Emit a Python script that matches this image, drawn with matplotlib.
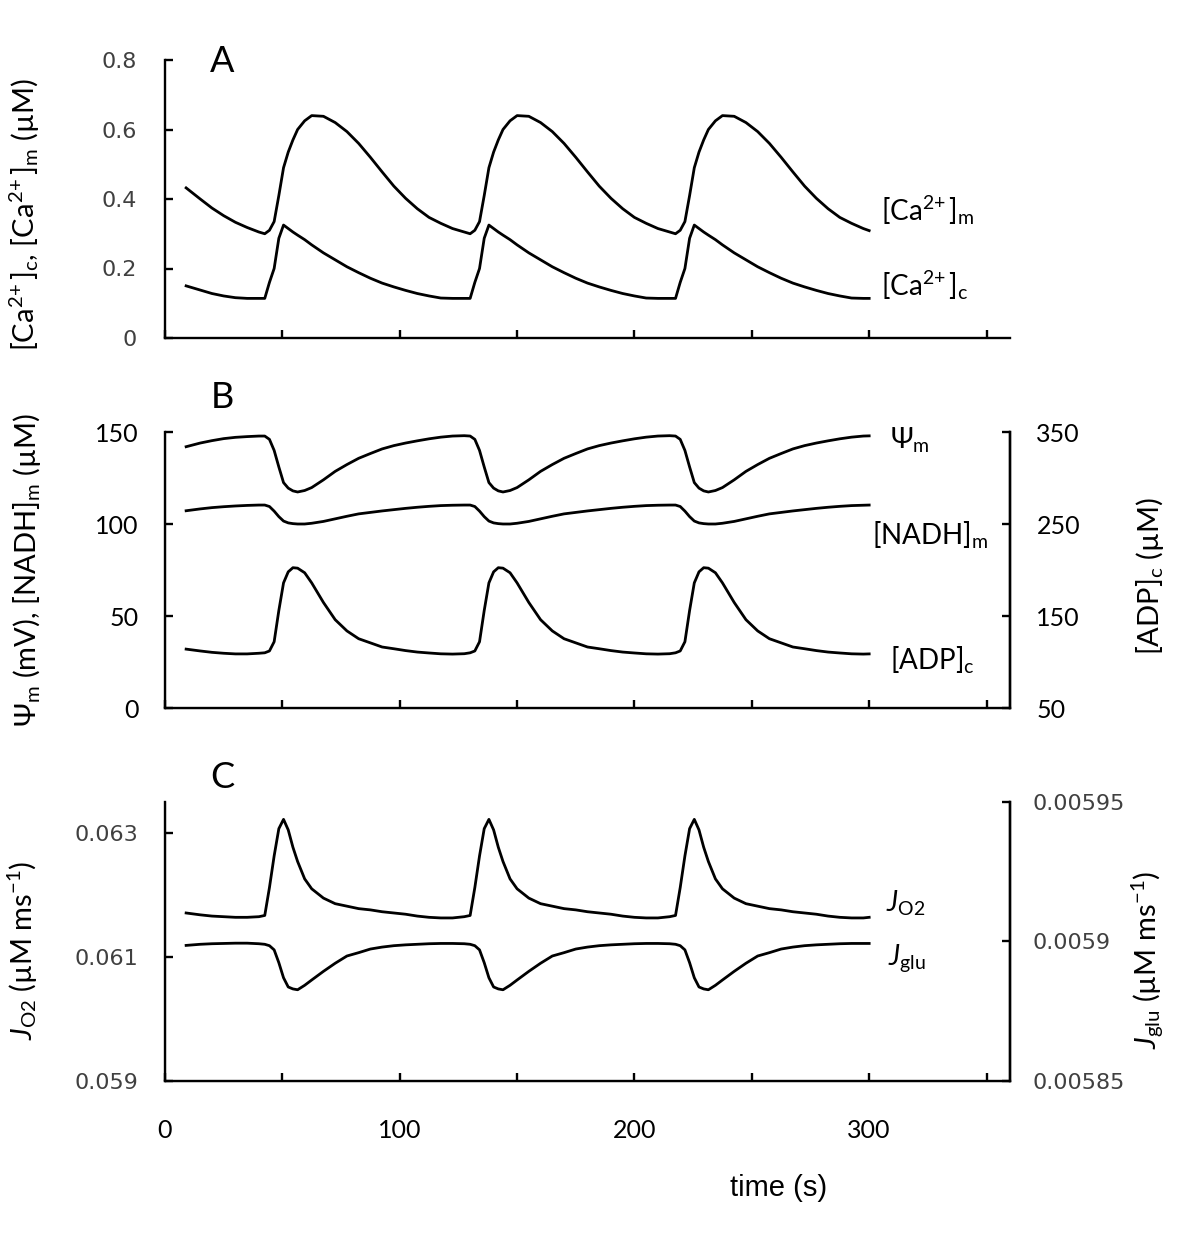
import matplotlib.pyplot as plt

# mathtext in the Calibri-like font used by the figure labels
plt.rcParams['mathtext.fontset'] = 'custom'
plt.rcParams['mathtext.rm'] = 'Lato'
plt.rcParams['mathtext.it'] = 'Lato:italic'
plt.rcParams['mathtext.bf'] = 'Lato:bold'

LABEL_FONT = ['Lato', 'DejaVu Sans']
TICK_GRAY = '#404040'

# time points (s), shared by every trace
time_s = [9, 15, 20, 25, 30, 35, 40,
          42.5, 44.5, 46.5, 48.5, 50.5, 52.5, 54.5, 56.5, 59.5, 62.5, 67.5, 72.5,
          77.5, 82.5, 87.5, 92.5, 97.5, 102.5, 107.5, 112.5, 117.5, 122.5, 127.5,
          130, 132, 134, 136, 138, 140, 142, 144, 147, 150, 155, 160,
          165, 170, 175, 180, 185, 190, 195, 200, 205, 210, 215,
          217.5, 219.5, 221.5, 223.5, 225.5, 227.5, 229.5, 231.5, 234.5, 237.5, 242.5, 247.5,
          252.5, 257.5, 262.5, 267.5, 272.5, 277.5, 282.5, 287.5, 292.5, 297.5, 300]

# panel A (uM)
ca_m = [0.432, 0.40, 0.374, 0.352, 0.333, 0.318, 0.305,
        0.300, 0.31, 0.335, 0.41, 0.49, 0.535, 0.57, 0.60, 0.625, 0.640, 0.638, 0.620,
        0.594, 0.56, 0.52, 0.478, 0.437, 0.402, 0.372, 0.347, 0.33, 0.315, 0.305,
        0.300, 0.31, 0.335, 0.41, 0.49, 0.535, 0.57, 0.60, 0.625, 0.640, 0.638, 0.620,
        0.594, 0.56, 0.52, 0.478, 0.437, 0.402, 0.372, 0.347, 0.33, 0.315, 0.305,
        0.300, 0.31, 0.335, 0.41, 0.49, 0.535, 0.57, 0.60, 0.625, 0.640, 0.638, 0.620,
        0.594, 0.56, 0.52, 0.478, 0.437, 0.402, 0.372, 0.347, 0.33, 0.315, 0.309]
ca_c = [0.150, 0.138, 0.128, 0.121, 0.116, 0.114, 0.114,
        0.114, 0.16, 0.20, 0.287, 0.325, 0.315, 0.305, 0.296, 0.283, 0.268, 0.245, 0.225,
        0.205, 0.188, 0.172, 0.158, 0.147, 0.137, 0.128, 0.121, 0.115, 0.114, 0.114,
        0.114, 0.16, 0.20, 0.287, 0.325, 0.315, 0.305, 0.296, 0.283, 0.268, 0.245, 0.225,
        0.205, 0.188, 0.172, 0.158, 0.147, 0.137, 0.128, 0.121, 0.115, 0.114, 0.114,
        0.114, 0.16, 0.20, 0.287, 0.325, 0.315, 0.305, 0.296, 0.283, 0.268, 0.245, 0.225,
        0.205, 0.188, 0.172, 0.158, 0.147, 0.137, 0.128, 0.121, 0.115, 0.114, 0.114]

# panel B: psi (mV), NADH (uM) on left axis, ADP (uM) on right axis
psi_m = [142, 144, 145.3, 146.4, 147.1, 147.5, 147.8,
         147.8, 146, 140, 131, 122.5, 119.5, 118, 117.4, 118.2, 119.8, 124, 128.6,
         132.3, 135.7, 138.3, 140.8, 142.6, 144, 145.2, 146.3, 147.2, 147.8, 148,
         147.8, 146, 140, 131, 122.5, 119.5, 118, 117.4, 118.2, 119.8, 124, 128.6,
         132.3, 135.7, 138.3, 140.8, 142.6, 144, 145.2, 146.3, 147.2, 147.8, 148,
         147.8, 146, 140, 131, 122.5, 119.5, 118, 117.4, 118.2, 119.8, 124, 128.6,
         132.3, 135.7, 138.3, 140.8, 142.6, 144, 145.2, 146.3, 147.2, 147.8, 147.9]
nadh_m = [107.2, 108.2, 108.9, 109.4, 109.8, 110.1, 110.3,
          110.3, 109.5, 107, 104, 101.6, 100.6, 100.2, 100, 100, 100.4, 101.4, 102.8,
          104.2, 105.5, 106.3, 107.1, 107.8, 108.5, 109.1, 109.6, 110, 110.2, 110.3,
          110.3, 109.5, 107, 104, 101.6, 100.6, 100.2, 100, 100, 100.4, 101.4, 102.8,
          104.2, 105.5, 106.3, 107.1, 107.8, 108.5, 109.1, 109.6, 110, 110.2, 110.3,
          110.3, 109.5, 107, 104, 101.6, 100.6, 100.2, 100, 100, 100.4, 101.4, 102.8,
          104.2, 105.5, 106.3, 107.1, 107.8, 108.5, 109.1, 109.6, 110, 110.2, 110.3]
adp_c = [114, 112, 110.5, 109.5, 108.8, 108.8, 109.5,
         110, 112, 122, 156, 186, 198, 202.5, 202, 197, 186, 164.7, 146,
         133.8, 125.3, 120.8, 116.3, 114.4, 112.4, 110.8, 109.8, 108.9, 108.6, 109,
         110, 112, 122, 156, 186, 198, 202.5, 202, 197, 186, 164.7, 146,
         133.8, 125.3, 120.8, 116.3, 114.4, 112.4, 110.8, 109.8, 108.9, 108.6, 109,
         110, 112, 122, 156, 186, 198, 202.5, 202, 197, 186, 164.7, 146,
         133.8, 125.3, 120.8, 116.3, 114.4, 112.4, 110.8, 109.8, 108.9, 108.6, 108.8]

# panel C (uM/ms): J_O2 on left axis, J_glu on right axis
j_o2 = [0.06171, 0.06168, 0.06166, 0.06165, 0.06164, 0.06164, 0.06165,
        0.06167, 0.06212, 0.06263, 0.06307, 0.06322, 0.06305, 0.06277, 0.06254, 0.06226,
        0.06210, 0.06195, 0.06186, 0.06182, 0.06178, 0.06176, 0.06173, 0.06171, 0.06169,
        0.06166, 0.06164, 0.06163, 0.06163, 0.06165,
        0.06167, 0.06212, 0.06263, 0.06307, 0.06322, 0.06305, 0.06277, 0.06254, 0.06226,
        0.06210, 0.06195, 0.06186, 0.06182, 0.06178, 0.06176, 0.06173, 0.06171, 0.06169,
        0.06166, 0.06164, 0.06163, 0.06163, 0.06165,
        0.06167, 0.06212, 0.06263, 0.06307, 0.06322, 0.06305, 0.06277, 0.06254, 0.06226,
        0.06210, 0.06195, 0.06186, 0.06182, 0.06178, 0.06176, 0.06173, 0.06171, 0.06169,
        0.06166, 0.06164, 0.06163, 0.06163, 0.06164]
j_glu = [0.0058986, 0.005899, 0.0058992, 0.0058993, 0.0058994, 0.0058994, 0.0058992,
         0.005899, 0.0058985, 0.005897, 0.0058924, 0.005887, 0.0058837, 0.005883, 0.0058827,
         0.0058843, 0.0058862, 0.0058893, 0.0058922, 0.0058948, 0.005896, 0.0058973,
         0.005898, 0.0058985, 0.0058988, 0.005899, 0.0058992, 0.0058993, 0.0058993, 0.0058992,
         0.005899, 0.0058985, 0.005897, 0.0058924, 0.005887, 0.0058837, 0.005883, 0.0058827,
         0.0058843, 0.0058862, 0.0058893, 0.0058922, 0.0058948, 0.005896, 0.0058973,
         0.005898, 0.0058985, 0.0058988, 0.005899, 0.0058992, 0.0058993, 0.0058993, 0.0058992,
         0.005899, 0.0058985, 0.005897, 0.0058924, 0.005887, 0.0058837, 0.005883, 0.0058827,
         0.0058843, 0.0058862, 0.0058893, 0.0058922, 0.0058948, 0.005896, 0.0058973,
         0.005898, 0.0058985, 0.0058988, 0.005899, 0.0058992, 0.0058993, 0.0058993, 0.0058993]

x_ticks = [0, 50, 100, 150, 200, 250, 300, 350]
x_tick_labels = ['0', '', '100', '', '200', '', '300', '']
ca_ticks = [0, 0.2, 0.4, 0.6, 0.8]
ca_tick_labels = ['0', '0.2', '0.4', '0.6', '0.8']
b_left_ticks = [0, 50, 100, 150]
b_right_ticks = [50, 150, 250, 350]
o2_ticks = [0.059, 0.061, 0.063]
o2_tick_labels = ['0.059', '0.061', '0.063']
glu_ticks = [0.00585, 0.0059, 0.00595]
glu_tick_labels = ['0.00585', '0.0059', '0.00595']

W, H = 1200, 1247
LW = 2.0
CA = r'[Ca$^{2\!+}$]'


def fig_box(left, top, right, bottom):
    """pixel box -> figure fraction rect"""
    return [left / W, 1 - bottom / H, (right - left) / W, (bottom - top) / H]


def style_axis(ax, right=False):
    """Excel-like look: no top spine, inward ticks"""
    ax.spines['top'].set_visible(False)
    ax.spines['right'].set_visible(right)
    for s in ax.spines.values():
        s.set_linewidth(1.7)
    ax.tick_params(direction='in', length=6, width=1.7)
    ax.set_xlim(0, 360)
    ax.set_xticks(x_ticks)
    ax.set_xticklabels([''] * len(x_ticks))


def set_tick_font(labels, family, size, color):
    for lbl in labels:
        lbl.set_family(family)
        lbl.set_fontsize(size)
        lbl.set_color(color)


def curve_label(ax, x, y, text):
    ax.text(x, y, text, fontsize=20, family=LABEL_FONT, va='center', ha='left',
            clip_on=False)


def panel_a(fig):
    ax = fig.add_axes(fig_box(165, 60, 1010, 338))
    style_axis(ax)
    ax.plot(time_s, ca_m, color='black', lw=LW)
    ax.plot(time_s, ca_c, color='black', lw=LW)
    ax.set_ylim(0, 0.8)
    ax.set_yticks(ca_ticks)
    ax.set_yticklabels(ca_tick_labels)
    ax.tick_params(axis='y', pad=20)
    set_tick_font(ax.get_yticklabels(), 'DejaVu Sans', 16, TICK_GRAY)
    curve_label(ax, 305, 0.368, CA + r'$_{\rm m}$')
    curve_label(ax, 305, 0.153, CA + r'$_{\rm c}$')
    return ax


def panel_b(fig):
    ax = fig.add_axes(fig_box(165, 432, 1010, 708))
    style_axis(ax, right=True)
    ax.plot(time_s, psi_m, color='black', lw=LW)
    ax.plot(time_s, nadh_m, color='black', lw=LW)
    ax.set_ylim(0, 150)
    ax.set_yticks(b_left_ticks)
    ax.tick_params(axis='y', pad=19)
    set_tick_font(ax.get_yticklabels(), LABEL_FONT, 18, 'black')

    ax2 = ax.twinx()
    ax2.spines['top'].set_visible(False)
    ax2.spines['right'].set_linewidth(1.7)
    ax2.plot(time_s, adp_c, color='black', lw=LW)
    ax2.set_ylim(50, 350)
    ax2.set_yticks(b_right_ticks)
    ax2.tick_params(direction='in', length=6, width=1.7, pad=19)
    set_tick_font(ax2.get_yticklabels(), LABEL_FONT, 18, 'black')

    curve_label(ax, 309, 145.7, 'Ψ$_{\\rm m}$')
    curve_label(ax, 301, 94, r'[NADH]$_{\rm m}$')
    curve_label(ax, 309, 26, r'[ADP]$_{\rm c}$')
    return ax


def panel_c(fig):
    ax = fig.add_axes(fig_box(165, 802, 1010, 1081))
    style_axis(ax, right=True)
    ax.plot(time_s, j_o2, color='black', lw=LW)
    ax.set_ylim(0.059, 0.0635)
    ax.set_yticks(o2_ticks)
    ax.set_yticklabels(o2_tick_labels)
    ax.tick_params(axis='y', pad=19)
    set_tick_font(ax.get_yticklabels(), 'DejaVu Sans', 16, TICK_GRAY)
    ax.set_xticklabels(x_tick_labels)
    ax.tick_params(axis='x', pad=27)
    set_tick_font(ax.get_xticklabels(), LABEL_FONT, 18, 'black')

    ax2 = ax.twinx()
    ax2.spines['top'].set_visible(False)
    ax2.spines['right'].set_linewidth(1.7)
    ax2.plot(time_s, j_glu, color='black', lw=LW)
    ax2.set_ylim(0.00585, 0.00595)
    ax2.set_yticks(glu_ticks)
    ax2.set_yticklabels(glu_tick_labels)
    ax2.tick_params(direction='in', length=6, width=1.7, pad=16)
    set_tick_font(ax2.get_yticklabels(), 'DejaVu Sans', 16, TICK_GRAY)

    curve_label(ax, 307, 0.06186, r'$J_{\rm O2}$')
    curve_label(ax, 308, 0.06098, r'$J_{\rm glu}$')
    return ax


def main():
    fig = plt.figure(figsize=(W / 100, H / 100), dpi=100)
    panel_a(fig)
    panel_b(fig)
    panel_c(fig)

    # panel letters
    for letter, y in [('A', 62), ('B', 397), ('C', 777)]:
        fig.text(222 / W, 1 - y / H, letter, fontsize=26, family=LABEL_FONT,
                 ha='center', va='center')

    # axis titles
    ylabels = [
        (25, 215, CA + r'$_{\rm c}$, ' + CA + r'$_{\rm m}$ (µM)'),
        (27, 570, 'Ψ$_{\\rm m}$ (mV), [NADH]$_{\\rm m}$ (µM)'),
        (1150, 576, r'[ADP]$_{\rm c}$ (µM)'),
        (23, 950, r'$J_{\rm O2}$ (µM ms$^{-1}$)'),
        (1148, 960, r'$J_{\rm glu}$ (µM ms$^{-1}$)'),
    ]
    for x, y, text in ylabels:
        fig.text(x / W, 1 - y / H, text, fontsize=21, family=LABEL_FONT,
                 rotation=90, ha='center', va='center')

    fig.text(779 / W, 1 - 1188 / H, 'time (s)', fontsize=21,
             family='Liberation Sans', ha='center', va='center')

    fig.savefig('out.png', dpi=100)


if __name__ == '__main__':
    main()
